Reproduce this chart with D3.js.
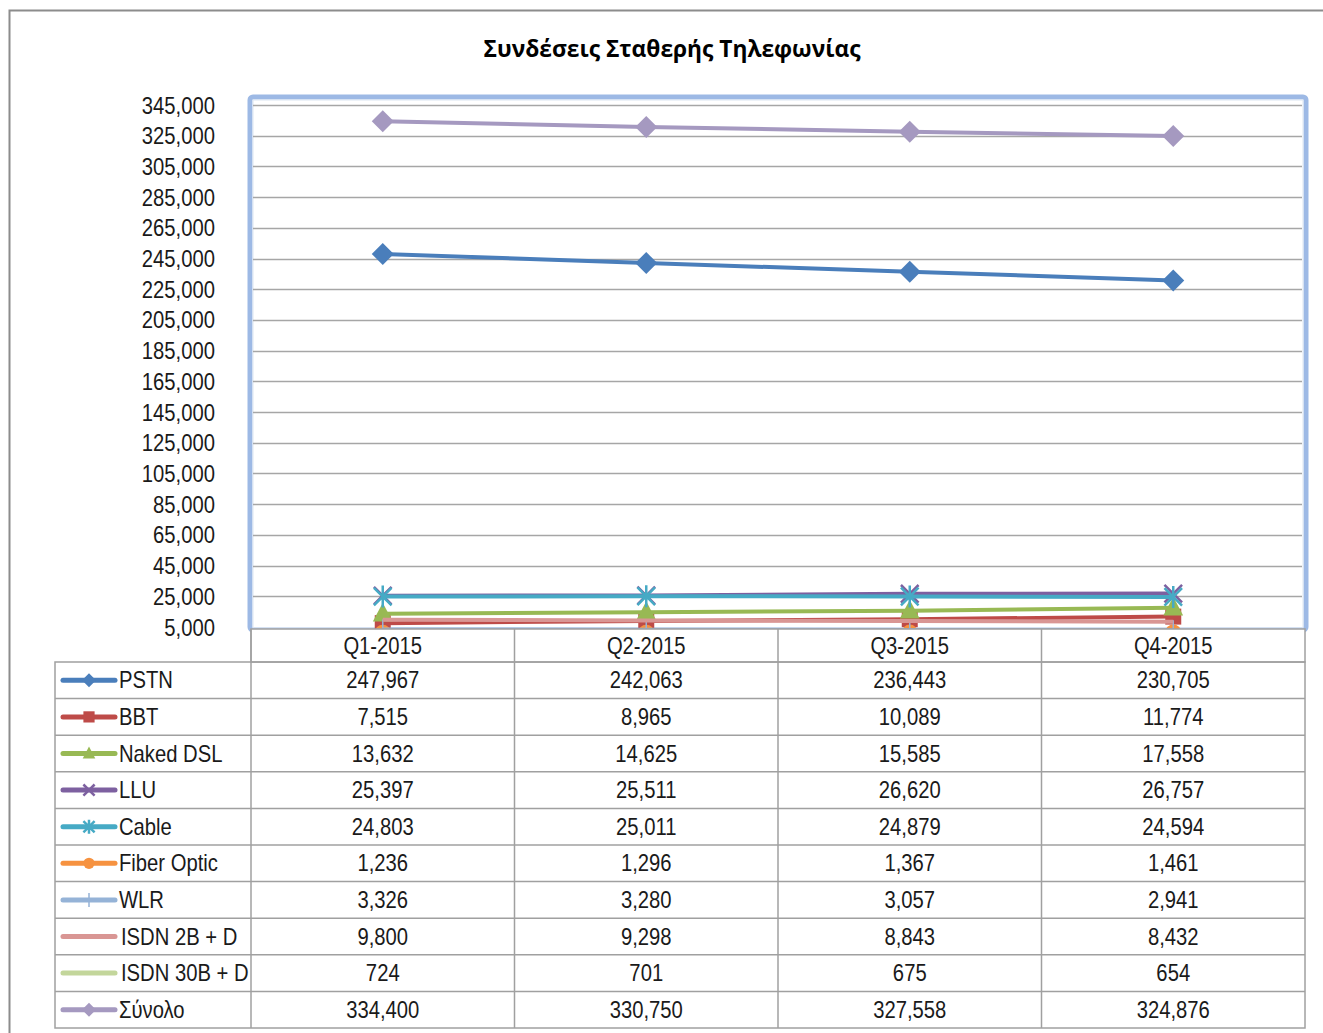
<!DOCTYPE html>
<html><head><meta charset="utf-8">
<script src="https://cdn.jsdelivr.net/npm/d3@7"></script>
<style>
html,body{margin:0;padding:0;background:#fff;}
svg{display:block;}
</style></head>
<body>
<svg id="chart" width="1323" height="1033"></svg>
<script>
const title = "Συνδέσεις Σταθερής Τηλεφωνίας";
const categories = ["Q1-2015","Q2-2015","Q3-2015","Q4-2015"];
const seriesNames = ["PSTN","BBT","Naked DSL","LLU","Cable","Fiber Optic","WLR","ISDN 2B + D","ISDN 30B + D","Σύνολο"];
const PSTN = [247967,242063,236443,230705];
const BBT = [7515,8965,10089,11774];
const NakedDSL = [13632,14625,15585,17558];
const LLU = [25397,25511,26620,26757];
const Cable = [24803,25011,24879,24594];
const FiberOptic = [1236,1296,1367,1461];
const WLR = [3326,3280,3057,2941];
const ISDN2B = [9800,9298,8843,8432];
const ISDN30B = [724,701,675,654];
const Total = [334400,330750,327558,324876];
const yTicks = [5000,25000,45000,65000,85000,105000,125000,145000,165000,185000,205000,225000,245000,265000,285000,305000,325000,345000];
const seriesColors = ["#4A7EBB","#BE4B48","#98B954","#7D60A0","#46AAC5","#F69240","#95B3D7","#D99694","#C3D69B","#A599C0"];
const seriesMarkers = ["diamond","square","triangle","x","star","circle","plus","none","none","diamond"];
const seriesValues = [PSTN,BBT,NakedDSL,LLU,Cable,FiberOptic,WLR,ISDN2B,ISDN30B,Total];

const svg = d3.select("#chart");
const fmt = d3.format(",");
const SX = 0.88;
const FONT = "'Liberation Sans',Arial,sans-serif";

function ntext(g, x, y, txt, anchor) {
  return g.append("text").attr("transform",`translate(${x},${y}) scale(${SX},1)`)
    .attr("text-anchor",anchor||"start").attr("font-family",FONT).attr("font-size",23)
    .attr("fill","#1a1a1a").text(txt);
}

// outer frame
svg.append("path").attr("d","M9.5,1033 L9.5,10.5 L1323,10.5").attr("fill","none").attr("stroke","#8c8c8c").attr("stroke-width",2);

// title
svg.append("text").attr("x",672).attr("y",57).attr("text-anchor","middle")
  .attr("font-family","'Open Sans','Noto Sans',sans-serif").attr("font-weight","bold").attr("font-size",23)
  .attr("textLength",377).attr("lengthAdjust","spacingAndGlyphs")
  .attr("fill","#000").text(title);

const plotL = 251, plotR = 1305;
const x = d3.scaleBand().domain(categories).range([plotL, plotR]).paddingInner(0).paddingOuter(0);
const xc = c => x(c) + x.bandwidth()/2;
const y = d3.scaleLinear().domain([5000,345000]).range([627,105]);

// plot area border
svg.append("rect").attr("x",250).attr("y",97).attr("width",1056).attr("height",533).attr("rx",3)
  .attr("fill","#fff").attr("stroke","#9DB9E5").attr("stroke-width",5);
svg.append("rect").attr("x",253).attr("y",100).attr("width",1050).attr("height",528)
  .attr("fill","none").attr("stroke","#DCE6F2").attr("stroke-width",1);

// gridlines
svg.append("g").selectAll("line").data(yTicks.slice(1)).join("line")
  .attr("x1",253).attr("x2",1302).attr("y1",d=>Math.round(y(d))+0.5).attr("y2",d=>Math.round(y(d))+0.5)
  .attr("stroke","#a6a6a6").attr("stroke-width",1.5);

// y axis (labels only) via d3 axis, then condensed
const yAxis = d3.axisLeft(y).tickValues(yTicks).tickFormat(fmt).tickSize(0).tickPadding(0);
const ga = svg.append("g").attr("transform","translate(215,0)").call(yAxis);
ga.select(".domain").remove();
ga.selectAll(".tick text").attr("x",null).attr("dy",null)
  .attr("transform",`translate(0,8) scale(${SX},1)`)
  .attr("font-family",FONT).attr("font-size",23).attr("fill","#1a1a1a").attr("text-anchor","end");

// clip
svg.append("clipPath").attr("id","clip").append("rect").attr("x",253).attr("y",99).attr("width",1050).attr("height",531);

const line = d3.line().x((d,i)=>xc(categories[i])).y(d=>y(d));

function drawMarker(g, type, cx, cy, color, s) {
  if (type==="diamond") {
    g.append("path").attr("d",`M${cx},${cy-s} L${cx+s},${cy} L${cx},${cy+s} L${cx-s},${cy} Z`).attr("fill",color);
  } else if (type==="square") {
    g.append("rect").attr("x",cx-s*0.8).attr("y",cy-s*0.8).attr("width",s*1.6).attr("height",s*1.6).attr("fill",color);
  } else if (type==="triangle") {
    g.append("path").attr("d",`M${cx},${cy-s} L${cx+s*0.9},${cy+s*0.7} L${cx-s*0.9},${cy+s*0.7} Z`).attr("fill",color);
  } else if (type==="x") {
    g.append("path").attr("d",`M${cx-s*0.8},${cy-s*0.8} L${cx+s*0.8},${cy+s*0.8} M${cx+s*0.8},${cy-s*0.8} L${cx-s*0.8},${cy+s*0.8}`).attr("stroke",color).attr("stroke-width",2.5);
  } else if (type==="star") {
    g.append("path").attr("d",`M${cx-s*0.8},${cy-s*0.8} L${cx+s*0.8},${cy+s*0.8} M${cx+s*0.8},${cy-s*0.8} L${cx-s*0.8},${cy+s*0.8} M${cx},${cy-s} L${cx},${cy+s}`).attr("stroke",color).attr("stroke-width",2.5);
  } else if (type==="circle") {
    g.append("circle").attr("cx",cx).attr("cy",cy).attr("r",s*0.8).attr("fill",color);
  } else if (type==="plus") {
    g.append("path").attr("d",`M${cx-s},${cy} L${cx+s},${cy} M${cx},${cy-s} L${cx},${cy+s}`).attr("stroke",color).attr("stroke-width",1.5);
  }
}

const plotG = svg.append("g").attr("clip-path","url(#clip)");
const markerSize = [11,10,11,11,11,10,10,0,0,11];
seriesNames.forEach((name,k)=>{
  const vals = seriesValues[k];
  plotG.append("path").datum(vals).attr("d",line).attr("fill","none")
    .attr("stroke",seriesColors[k]).attr("stroke-width",4).attr("stroke-linejoin","round");
  vals.forEach((v,i)=>{
    drawMarker(plotG, seriesMarkers[k], xc(categories[i]), y(v), seriesColors[k], markerSize[k]);
  });
});

// data table
const rowTop = 662, rowH = 36.6;
const tbl = svg.append("g");
const gridColor = "#a0a0a0";
tbl.append("rect").attr("x",plotL).attr("y",629).attr("width",plotR-plotL).attr("height",rowTop-629).attr("fill","#fff").attr("stroke",gridColor).attr("stroke-width",1.5);
categories.forEach(c=>{
  tbl.append("line").attr("x1",x(c)).attr("x2",x(c)).attr("y1",629).attr("y2",rowTop+rowH*seriesNames.length).attr("stroke",gridColor).attr("stroke-width",1.5);
  ntext(tbl, xc(c), 654, c, "middle");
});
tbl.append("rect").attr("x",55).attr("y",rowTop).attr("width",plotR-55).attr("height",rowH*seriesNames.length).attr("fill","none").attr("stroke",gridColor).attr("stroke-width",1.5);
seriesNames.forEach((name,k)=>{
  const ry = rowTop + rowH*k;
  if (k>0) tbl.append("line").attr("x1",55).attr("x2",plotR).attr("y1",ry).attr("y2",ry).attr("stroke",gridColor).attr("stroke-width",1.5);
  const cy = ry + rowH/2;
  tbl.append("line").attr("x1",63).attr("x2",115).attr("y1",cy).attr("y2",cy).attr("stroke",seriesColors[k]).attr("stroke-width",5).attr("stroke-linecap","round");
  drawMarker(tbl, seriesMarkers[k], 89, cy, seriesColors[k], 7);
  ntext(tbl, (name.startsWith("ISDN")?121:119), cy+8, name, "start");
  seriesValues[k].forEach((v,i)=>{
    ntext(tbl, xc(categories[i]), cy+8, fmt(v), "middle");
  });
});
</script>
</body></html>
